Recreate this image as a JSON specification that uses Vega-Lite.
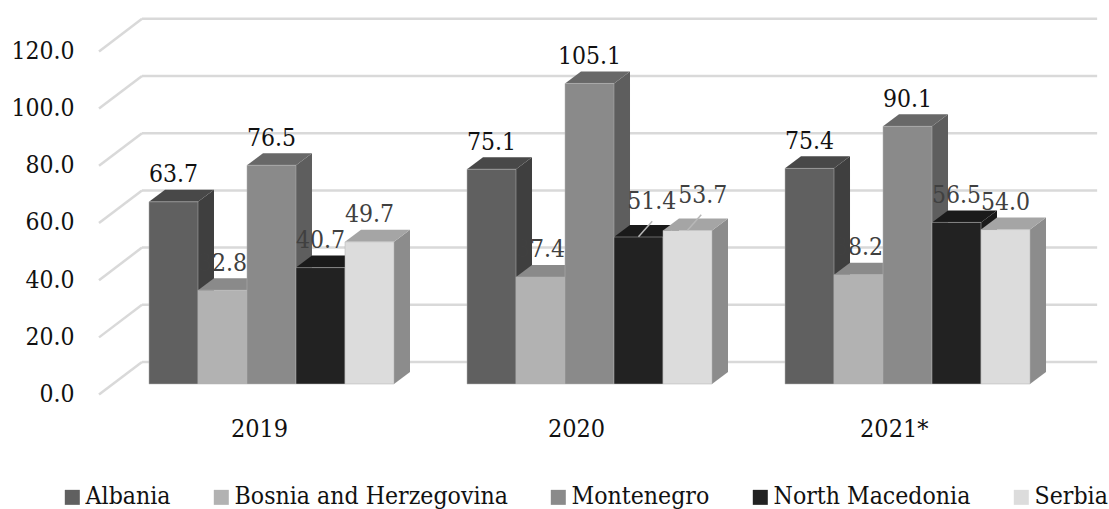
{"$schema":"https://vega.github.io/schema/vega-lite/v6.json","width":1013,"height":509,"autosize":"none","padding":{"left":96,"top":0,"right":0,"bottom":0},"background":"white",
"config":{"view":{"stroke":null},"font":"DejaVu Serif Condensed","text":{"font":"DejaVu Serif Condensed"}},
"datasets":{"bars":[
{"year":"2019","country":"Albania","value":63.7},{"year":"2019","country":"Bosnia and Herzegovina","value":32.8},{"year":"2019","country":"Montenegro","value":76.5},{"year":"2019","country":"North Macedonia","value":40.7},{"year":"2019","country":"Serbia","value":49.7},
{"year":"2020","country":"Albania","value":75.1},{"year":"2020","country":"Bosnia and Herzegovina","value":37.4},{"year":"2020","country":"Montenegro","value":105.1},{"year":"2020","country":"North Macedonia","value":51.4},{"year":"2020","country":"Serbia","value":53.7},
{"year":"2021*","country":"Albania","value":75.4},{"year":"2021*","country":"Bosnia and Herzegovina","value":38.2},{"year":"2021*","country":"Montenegro","value":90.1},{"year":"2021*","country":"North Macedonia","value":56.5},{"year":"2021*","country":"Serbia","value":54.0}],
"ticks":[{"tick":0},{"tick":20},{"tick":40},{"tick":60},{"tick":80},{"tick":100},{"tick":120}]},
"data":{"name":"bars"},
"transform":[
{"calculate":"indexof(['2019','2020','2021*'],datum.year)*6.49+indexof(['Albania','Bosnia and Herzegovina','Montenegro','North Macedonia','Serbia'],datum.country)","as":"x0"},
{"calculate":"datum.x0+1","as":"x1"},
{"calculate":"datum.year+datum.country","as":"bar"}],
"layer":[
{"data":{"name":"ticks"},"transform":[{"calculate":"datum.tick+7.7","as":"wall"}],
"mark":{"type":"rule","color":"#d9d9d9","strokeWidth":2.5},
"encoding":{"x":{"datum":-0.143,"type":"quantitative","scale":{"domain":[-1.0816,19.592],"nice":false,"zero":false},"axis":{"values":[2.245,8.715,15.2],"labelExpr":"datum.value<5?'2019':datum.value<12?'2020':'2021*'","title":null,"domain":false,"ticks":false,"tickSize":0,"grid":false,"labelFontSize":25,"labelColor":"#111111","labelFont":"DejaVu Serif Condensed","labelPadding":-81,"labelBaseline":"middle","labelFlush":false}},
"x2":{"datum":19.35},
"y":{"field":"wall","type":"quantitative","scale":{"domain":[-43.71,134.27],"nice":false,"zero":false},"axis":{"values":[0,20,40,60,80,100,120],"format":".1f","title":null,"domain":false,"ticks":false,"tickSize":0,"grid":false,"labelFontSize":24.5,"labelColor":"#111111","labelFont":"DejaVu Serif Condensed","labelPadding":22,"labelOffset":10.5,"labelBaseline":"middle"}}}},
{"data":{"name":"ticks"},"transform":[{"calculate":"datum.tick+7.7","as":"wall"},{"calculate":"datum.tick-3.7","as":"front"}],
"mark":{"type":"rule","color":"#d9d9d9","strokeWidth":2.5},
"encoding":{"x":{"datum":-1.02,"type":"quantitative","scale":{"domain":[-1.0816,19.592],"nice":false,"zero":false},"axis":null},"x2":{"datum":-0.143},
"y":{"field":"front","type":"quantitative","scale":{"domain":[-43.71,134.27],"nice":false,"zero":false},"axis":null},"y2":{"field":"wall"}}},
{"transform":[{"calculate":"[0,1]","as":"t"},{"flatten":["t"]},{"calculate":"datum.x1+datum.t*0.3265","as":"sx"},{"calculate":"datum.value+datum.t*4.2","as":"sy"},{"calculate":"datum.t*4.2","as":"sy2"}],
"mark":{"type":"area","orient":"vertical","interpolate":"linear"},
"encoding":{"x":{"field":"sx","type":"quantitative","scale":{"domain":[-1.0816,19.592],"nice":false,"zero":false},"axis":null},
"y":{"field":"sy","type":"quantitative","stack":null,"scale":{"domain":[-43.71,134.27],"nice":false,"zero":false},"axis":null},"y2":{"field":"sy2"},
"detail":{"field":"bar"},
"color":{"field":"country","type":"nominal","legend":null,"scale":{"domain":["Albania","Bosnia and Herzegovina","Montenegro","North Macedonia","Serbia"],"range":["#3f3f3f","#6e6e6e","#5e5e5e","#1a1a1a","#8c8c8c"]}}}},
{"transform":[{"calculate":"[0,1,2,3]","as":"i"},{"flatten":["i"]},{"calculate":"[datum.x0,datum.x0+0.3265,datum.x1,datum.x1+0.3265][datum.i]","as":"tx"},{"calculate":"datum.value+(datum.i==0?0:4.2)","as":"ty"},{"calculate":"datum.value+(datum.i==3?4.2:0)","as":"ty2"}],
"mark":{"type":"area","orient":"vertical","interpolate":"linear"},
"encoding":{"x":{"field":"tx","type":"quantitative","scale":{"domain":[-1.0816,19.592],"nice":false,"zero":false},"axis":null},
"y":{"field":"ty","type":"quantitative","stack":null,"scale":{"domain":[-43.71,134.27],"nice":false,"zero":false},"axis":null},"y2":{"field":"ty2"},
"detail":{"field":"bar"},
"color":{"field":"country","type":"nominal","legend":null,"scale":{"domain":["Albania","Bosnia and Herzegovina","Montenegro","North Macedonia","Serbia"],"range":["#484848","#8a8a8a","#686868","#1a1a1a","#a5a5a5"]}}}},
{"mark":{"type":"rect","stroke":"#b4b4b4","strokeWidth":1,"strokeOpacity":0.5},
"encoding":{"x":{"field":"x0","type":"quantitative","scale":{"domain":[-1.0816,19.592],"nice":false,"zero":false},"axis":null},"x2":{"field":"x1"},
"y":{"field":"value","type":"quantitative","stack":null,"scale":{"domain":[-43.71,134.27],"nice":false,"zero":false},"axis":null},"y2":{"datum":0},
"color":{"field":"country","type":"nominal","scale":{"domain":["Albania","Bosnia and Herzegovina","Montenegro","North Macedonia","Serbia"],"range":["#606060","#b2b2b2","#8a8a8a","#222222","#dcdcdc"]},
"legend":{"orient":"none","legendX":-36,"legendY":485,"direction":"horizontal","columns":5,"title":null,"symbolType":"square","symbolSize":225,"symbolStrokeWidth":0,"symbolOpacity":1,"labelFontSize":24.6,"labelFont":"DejaVu Serif Condensed","labelColor":"#111111","labelOffset":1,"columnPadding":38,"padding":0,"labelLimit":400}}}},
{"transform":[{"filter":"datum.year=='2020'&&(datum.country=='North Macedonia'||datum.country=='Serbia')"},{"calculate":"datum.value+0.1","as":"a"},{"calculate":"datum.value+5.5","as":"b"},{"calculate":"datum.x0+0.5","as":"lx"},{"calculate":"datum.x0+0.78","as":"lx2"}],
"mark":{"type":"rule","color":"#b8b8b8","strokeWidth":1.5},
"encoding":{"x":{"field":"lx","type":"quantitative","scale":{"domain":[-1.0816,19.592],"nice":false,"zero":false},"axis":null},"x2":{"field":"lx2"},
"y":{"field":"a","type":"quantitative","stack":null,"scale":{"domain":[-43.71,134.27],"nice":false,"zero":false},"axis":null},"y2":{"field":"b"}}},
{"transform":[{"calculate":"datum.x0+0.5+(datum.year=='2020'&&datum.country=='North Macedonia'?0.27:datum.year=='2020'&&datum.country=='Serbia'?0.31:0)","as":"lx"},{"calculate":"datum.value+(datum.year=='2020'&&(datum.country=='North Macedonia'||datum.country=='Serbia')?12.2:9.3)","as":"ly"}],
"mark":{"type":"text","fontSize":24.5,"baseline":"middle","align":"center"},
"encoding":{"x":{"field":"lx","type":"quantitative","scale":{"domain":[-1.0816,19.592],"nice":false,"zero":false},"axis":null},
"y":{"field":"ly","type":"quantitative","stack":null,"scale":{"domain":[-43.71,134.27],"nice":false,"zero":false},"axis":null},
"text":{"field":"value","type":"quantitative","format":".1f"},
"color":{"condition":{"test":"datum.country=='Albania'||datum.country=='Montenegro'","value":"#111111"},"value":"#404040"}}}
],
"resolve":{"scale":{"color":"independent"},"axis":{"x":"independent","y":"independent"}}}
